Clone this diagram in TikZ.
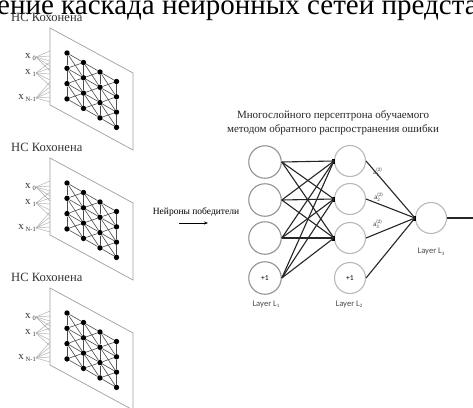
\documentclass[tikz,border=0pt]{standalone}
\usepackage{fontspec}
\setmainfont{Liberation Serif}
\newfontfamily\calib{Carlito}
\usetikzlibrary{arrows.meta}
\newcommand\aLab[1]{a\rlap{\raisebox{3.8pt}{\fontsize{5}{5}\selectfont(2)}}\raisebox{-1.5pt}{\fontsize{5}{5}\selectfont #1}}
\newcommand\xLab[1]{x\,\raisebox{-2.5pt}{\fontsize{6.5}{6.5}\selectfont #1}}
\begin{document}
\begin{tikzpicture}[x=1pt,y=-1pt,
  panel/.style={draw=gray!75, line width=0.7},
  fan/.style={draw=gray!65, line width=0.45},
  gridedge/.style={draw=black!70, line width=0.6},
  dot/.style={circle, fill=black, inner sep=0, minimum size=5.4},
  lone/.style={circle, draw=gray!85, line width=1.1, minimum size=32.5, inner sep=0, font=\calib\fontsize{7.5}{8}\selectfont},
  ltwo/.style={circle, draw=gray!55, line width=1.1, minimum size=31, inner sep=0, font=\calib\fontsize{7.5}{8}\selectfont},
  junc/.style={rectangle, fill=black, inner sep=0, minimum width=3, minimum height=5},
  conn/.style={draw=black!85, line width=1.1},
  layerlab/.style={font=\calib\fontsize{8.6}{9}\selectfont, text=black!70, inner sep=0},
  alab/.style={font=\calib\fontsize{7}{8}\selectfont, text=black!75, inner sep=0},
  kohlab/.style={anchor=west, inner sep=0, font=\fontsize{12.6}{13}\selectfont, text=black!80},
  inlab/.style={anchor=east, inner sep=0, font=\fontsize{11}{12}\selectfont, text=black!80}
]
\useasboundingbox (0,0) rectangle (473,407);
\clip (0,0) rectangle (473,407);
\fill[white] (0,0) rectangle (473,407);
% cut-off heading line
\node[anchor=base west, inner sep=0, font=\fontsize{29}{30}\selectfont] (head) at (-3,14) {ение каскада нейронных сетей предста};

% Kohonen panels
\foreach \k in {0,1,2}{
  \pgfmathsetmacro\dy{130*\k}
  \node[kohlab] (t\k) at (11,{17.5+\dy}) {НС Кохонена};
  \draw[panel] (50,{28+\dy}) -- (133,{73+\dy}) -- (133,{150+\dy}) -- (50,{105+\dy}) -- cycle;
  \node[inlab] (xa\k) at (36,{57+\dy}) {\xLab{0}};
  \node[inlab] (xb\k) at (36,{73+\dy}) {\xLab{1}};
  \node[inlab] (xc\k) at (36,{98+\dy}) {\xLab{N-1}};
  \foreach \m in {0,...,4}{
    \coordinate (ea\k-\m) at (50,{51+5*\m+\dy});
    \coordinate (eb\k-\m) at (50,{62+6*\m+\dy});
    \coordinate (ec\k-\m) at (50,{82+5*\m+\dy});
    \draw[fan] (xa\k.east) -- (ea\k-\m);
    \draw[fan] (xb\k.east) -- (eb\k-\m);
    \draw[fan] (xc\k.east) -- (ec\k-\m);
  }
  \foreach \i in {0,...,3}{
    \foreach \j in {0,...,3}{
      \node[dot] (p\k-\i-\j) at ({67+16.5*\i},{53+9.5*\i+15.3*\j+\dy}) {};
    }
  }
  \foreach \i in {0,...,3}{
    \foreach \j in {0,...,2}{
      \pgfmathtruncatemacro\jj{\j+1}
      \draw[gridedge] (p\k-\i-\j) -- (p\k-\i-\jj);
    }
  }
  \foreach \i in {0,...,2}{
    \pgfmathtruncatemacro\ii{\i+1}
    \foreach \j in {0,...,3}{
      \pgfmathtruncatemacro\jj{\j+1}
      \draw[gridedge] (p\k-\i-\j) -- (p\k-\ii-\j);
      \ifnum\j<3
        \draw[gridedge] (p\k-\i-\j) -- (p\k-\ii-\jj);
        \draw[gridedge] (p\k-\i-\jj) -- (p\k-\ii-\j);
      \fi
    }
  }
}

% winners arrow
\node[inner sep=0, font=\fontsize{9.5}{10}\selectfont] (win) at (196,212) {Нейроны победители};
\coordinate (arrS) at (179,223);
\coordinate (arrE) at (208,223);
\draw[-{Stealth[length=4pt,width=3pt]}, line width=0.8] (arrS) -- (arrE);

% title
\node[inner sep=0, align=center, font=\fontsize{11}{14}\selectfont, text=black!85] (title) at (333,123) {Многослойного персептрона обучаемого\\методом обратного распространения ошибки};

% perceptron
\node[lone] (a1) at (265,162) {};
\node[lone] (a2) at (265,200) {};
\node[lone] (a3) at (265,238) {};
\node[lone] (ab) at (265,278) {+1};
\node[ltwo] (b1) at (350,161) {};
\node[ltwo] (b2) at (350,199) {};
\node[ltwo] (b3) at (350,238) {};
\node[ltwo] (bb) at (350,278) {+1};
\node[ltwo] (c1) at (431,218) {};
\node[junc] (jb1) at (b1.west) {};
\node[junc] (jb2) at (b2.west) {};
\node[junc] (jb3) at (b3.west) {};
\node[junc] (jc) at (c1.west) {};
\foreach \s in {a1,a2,a3,ab}{
  \foreach \t in {jb1,jb2,jb3}{
    \draw[conn] (\s.east) -- (\t.center);
  }
}
\foreach \s in {b1,b2,b3,bb}{
  \draw[conn] (\s.east) -- (jc.center);
}
\coordinate (outR) at (475,218);
\draw[conn] (c1.east) -- (outR);

\node[alab] (al1) at (376,172) {\aLab{1}};
\node[alab] (al2) at (377,197) {\aLab{2}};
\node[alab] (al3) at (376,224) {\aLab{3}};

\node[layerlab] (L1) at (266,304) {Layer L\raisebox{-1.5pt}{\fontsize{5}{5}\selectfont 1}};
\node[layerlab] (L2) at (349,304) {Layer L\raisebox{-1.5pt}{\fontsize{5}{5}\selectfont 2}};
\node[layerlab] (L3) at (431,252) {Layer L\raisebox{-1.5pt}{\fontsize{5}{5}\selectfont 3}};
\end{tikzpicture}
\end{document}
